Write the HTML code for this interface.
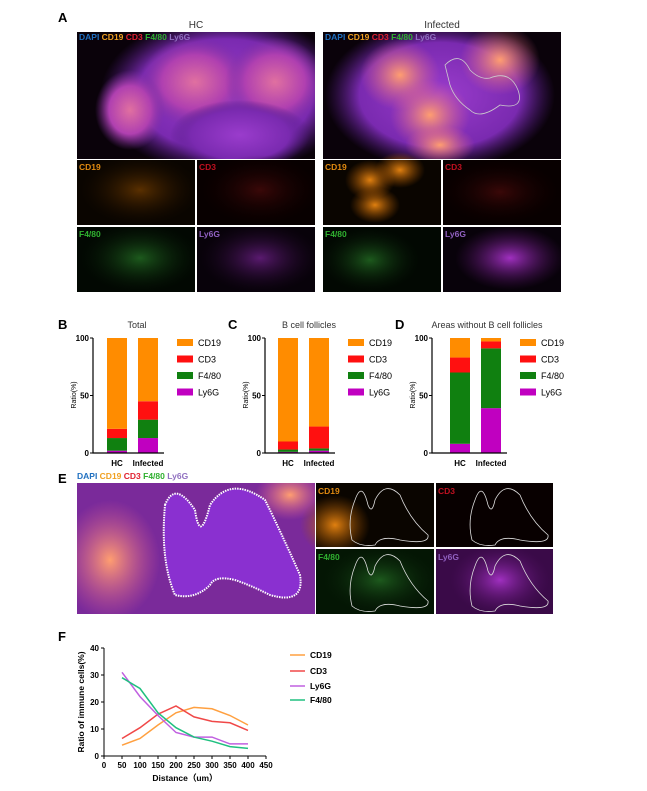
<!DOCTYPE html>
<html><head><meta charset="utf-8"><style>
html,body{margin:0;padding:0;background:#fff;width:647px;height:791px;overflow:hidden}
svg{display:block;font-family:"Liberation Sans",sans-serif}
</style></head><body>
<svg id="s" width="647" height="791" viewBox="0 0 647 791" xmlns="http://www.w3.org/2000/svg">
<defs>
<radialGradient id="pk" cx="50%" cy="50%" r="50%"><stop offset="0" stop-color="#e070a0"/><stop offset="0.6" stop-color="#b040b0"/><stop offset="1" stop-color="#8030a0" stop-opacity="0"/></radialGradient>
<radialGradient id="pu" cx="50%" cy="50%" r="50%"><stop offset="0" stop-color="#9a3ccc"/><stop offset="0.7" stop-color="#7a2ab0"/><stop offset="1" stop-color="#501a80" stop-opacity="0"/></radialGradient>
<radialGradient id="or" cx="50%" cy="50%" r="50%"><stop offset="0" stop-color="#ff9e70"/><stop offset="1" stop-color="#e06090" stop-opacity="0"/></radialGradient>
<radialGradient id="o2" cx="50%" cy="50%" r="50%"><stop offset="0" stop-color="#e08010"/><stop offset="1" stop-color="#a05000" stop-opacity="0"/></radialGradient>
<radialGradient id="o3" cx="50%" cy="50%" r="50%"><stop offset="0" stop-color="#5a3000"/><stop offset="1" stop-color="#1a0c00" stop-opacity="0"/></radialGradient>
<radialGradient id="r3" cx="50%" cy="50%" r="50%"><stop offset="0" stop-color="#3a0808"/><stop offset="1" stop-color="#100000" stop-opacity="0"/></radialGradient>
<radialGradient id="g3" cx="50%" cy="50%" r="50%"><stop offset="0" stop-color="#1d5a1d"/><stop offset="1" stop-color="#061806" stop-opacity="0"/></radialGradient>
<radialGradient id="v3" cx="50%" cy="50%" r="50%"><stop offset="0" stop-color="#5a1a70"/><stop offset="1" stop-color="#1a0620" stop-opacity="0"/></radialGradient>
<radialGradient id="v4" cx="50%" cy="50%" r="50%"><stop offset="0" stop-color="#a030c0"/><stop offset="1" stop-color="#501060" stop-opacity="0"/></radialGradient>
<clipPath id="cl">
<rect x="77" y="32" width="238" height="127"/><rect x="323" y="32" width="238" height="127"/>
<rect x="77" y="160" width="118" height="65"/><rect x="197" y="160" width="118" height="65"/>
<rect x="77" y="227" width="118" height="65"/><rect x="197" y="227" width="118" height="65"/>
<rect x="323" y="160" width="118" height="65"/><rect x="443" y="160" width="118" height="65"/>
<rect x="323" y="227" width="118" height="65"/><rect x="443" y="227" width="118" height="65"/>
<rect x="77" y="483" width="238" height="131"/>
<rect x="316" y="483" width="118" height="64"/><rect x="436" y="483" width="117" height="64"/>
<rect x="316" y="549" width="118" height="65"/><rect x="436" y="549" width="117" height="65"/>
</clipPath>
</defs>
<g font-size="10">
<text x="58" y="22" font-weight="bold" font-size="13">A</text>
<text x="196" y="28" text-anchor="middle" fill="#333">HC</text>
<text x="442" y="28" text-anchor="middle" fill="#333">Infected</text>
</g>
<g clip-path="url(#cl)">
<!-- HC big -->
<rect x="77" y="32" width="238" height="127" fill="#0a020a"/>
<ellipse cx="225" cy="95" rx="125" ry="80" fill="url(#pu)"/>
<ellipse cx="195" cy="82" rx="55" ry="45" fill="url(#pk)"/>
<ellipse cx="275" cy="82" rx="50" ry="45" fill="url(#pk)"/>
<ellipse cx="240" cy="135" rx="70" ry="35" fill="url(#pu)"/>
<ellipse cx="130" cy="110" rx="35" ry="40" fill="url(#pk)"/>
<!-- Infected big -->
<rect x="323" y="32" width="238" height="127" fill="#0a020a"/>
<ellipse cx="440" cy="95" rx="115" ry="75" fill="url(#pu)"/>
<ellipse cx="400" cy="75" rx="40" ry="35" fill="url(#or)"/>
<ellipse cx="500" cy="60" rx="40" ry="35" fill="url(#or)"/>
<ellipse cx="430" cy="115" rx="40" ry="35" fill="url(#or)"/>
<ellipse cx="440" cy="145" rx="35" ry="20" fill="url(#or)"/>
<path d="M445 65 Q460 50 470 70 Q480 80 490 78 Q510 70 518 90 Q525 110 500 105 Q480 120 470 110 Q455 100 450 85 Z" fill="none" stroke="#ccc" stroke-width="0.8"/>
<!-- small panels -->
<rect x="77" y="160" width="118" height="65" fill="#0a0500"/><ellipse cx="140" cy="190" rx="60" ry="35" fill="url(#o3)"/>
<rect x="197" y="160" width="118" height="65" fill="#080000"/><ellipse cx="260" cy="190" rx="60" ry="35" fill="url(#r3)"/>
<rect x="77" y="227" width="118" height="65" fill="#020802"/><ellipse cx="140" cy="258" rx="60" ry="35" fill="url(#g3)"/>
<rect x="197" y="227" width="118" height="65" fill="#08020a"/><ellipse cx="260" cy="258" rx="60" ry="35" fill="url(#v3)"/>
<rect x="323" y="160" width="118" height="65" fill="#0a0500"/><ellipse cx="370" cy="180" rx="25" ry="20" fill="url(#o2)"/><ellipse cx="400" cy="170" rx="25" ry="18" fill="url(#o2)"/><ellipse cx="375" cy="205" rx="25" ry="18" fill="url(#o2)"/>
<rect x="443" y="160" width="118" height="65" fill="#080000"/><ellipse cx="500" cy="192" rx="60" ry="32" fill="url(#r3)"/>
<rect x="323" y="227" width="118" height="65" fill="#020802"/><ellipse cx="370" cy="260" rx="50" ry="32" fill="url(#g3)"/>
<rect x="443" y="227" width="118" height="65" fill="#08020a"/><ellipse cx="510" cy="258" rx="55" ry="32" fill="url(#v4)"/>
<!-- E -->
<rect x="77" y="483" width="238" height="131" fill="#7a2a9a"/>
<ellipse cx="110" cy="560" rx="50" ry="60" fill="url(#or)"/>
<ellipse cx="290" cy="495" rx="35" ry="25" fill="url(#or)"/>
<path d="M165 505 Q175 480 195 510 Q200 545 210 505 Q230 475 265 500 Q280 530 300 575 Q305 605 270 595 Q250 585 235 580 Q215 575 210 585 Q195 600 175 595 Q160 560 165 505 Z" fill="#8a30d0" stroke="#fff" stroke-width="2" stroke-dasharray="1.5 1"/>
<rect x="316" y="483" width="118" height="64" fill="#0a0500"/><ellipse cx="335" cy="525" rx="35" ry="30" fill="url(#o2)"/>
<rect x="436" y="483" width="117" height="64" fill="#080000"/>
<rect x="316" y="549" width="118" height="65" fill="#041604"/><ellipse cx="380" cy="580" rx="60" ry="35" fill="url(#g3)"/>
<rect x="436" y="549" width="117" height="65" fill="#3a0a48"/><ellipse cx="500" cy="580" rx="50" ry="35" fill="url(#v4)"/>
<g fill="none" stroke="#ddd" stroke-width="0.8">
<path d="M355 500 Q362 480 368 505 Q372 515 375 500 Q385 480 400 495 Q410 520 428 535 Q430 545 400 540 Q380 535 375 545 Q360 547 352 540 Q347 520 355 500Z"/>
<path d="M475 500 Q482 480 488 505 Q492 515 495 500 Q505 480 520 495 Q530 520 548 535 Q550 545 520 540 Q500 535 495 545 Q480 547 472 540 Q467 520 475 500Z"/>
<path d="M355 566 Q362 546 368 571 Q372 581 375 566 Q385 546 400 561 Q410 586 428 601 Q430 611 400 606 Q380 601 375 611 Q360 613 352 606 Q347 586 355 566Z"/>
<path d="M475 566 Q482 546 488 571 Q492 581 495 566 Q505 546 520 561 Q530 586 548 601 Q550 611 520 606 Q500 601 495 611 Q480 613 472 606 Q467 586 475 566Z"/>
</g>
</g>
<g font-size="8.5" font-weight="bold">
<text x="79" y="40"><tspan fill="#2070c0">DAPI </tspan><tspan fill="#f0a020">CD19 </tspan><tspan fill="#e02030">CD3 </tspan><tspan fill="#30b030">F4/80 </tspan><tspan fill="#9070c0">Ly6G</tspan></text>
<text x="325" y="40"><tspan fill="#2070c0">DAPI </tspan><tspan fill="#f0a020">CD19 </tspan><tspan fill="#e02030">CD3 </tspan><tspan fill="#30b030">F4/80 </tspan><tspan fill="#9070c0">Ly6G</tspan></text>
<text x="79" y="170" fill="#e08a10">CD19</text><text x="199" y="170" fill="#c01020">CD3</text>
<text x="79" y="237" fill="#30b030">F4/80</text><text x="199" y="237" fill="#9060c0">Ly6G</text>
<text x="325" y="170" fill="#e08a10">CD19</text><text x="445" y="170" fill="#c01020">CD3</text>
<text x="325" y="237" fill="#30b030">F4/80</text><text x="445" y="237" fill="#9060c0">Ly6G</text>
<text x="318" y="494" fill="#e08a10">CD19</text><text x="438" y="494" fill="#c01020">CD3</text>
<text x="318" y="560" fill="#30b030">F4/80</text><text x="438" y="560" fill="#9060c0">Ly6G</text>
</g>
<g id="bars"></g>
<text x="58" y="483" font-weight="bold" font-size="13">E</text>
<text x="77" y="479" font-size="8.5" font-weight="bold"><tspan fill="#2070c0">DAPI </tspan><tspan fill="#f0a020">CD19 </tspan><tspan fill="#e02030">CD3 </tspan><tspan fill="#30b030">F4/80 </tspan><tspan fill="#9070c0">Ly6G</tspan></text>
<!-- F -->
<text x="58" y="641" font-weight="bold" font-size="13">F</text>
<path d="M104 648 V756 H266" stroke="#000" stroke-width="1" fill="none"/>
<g id="fticks"></g>
<g fill="none" stroke-width="1.5">
<polyline stroke="#ffa040" points="122,745.2 140,738.5 158,725 176,712.8 194,707.4 212,708.8 230,715.5 248,725"/>
<polyline stroke="#f04848" points="122,738.5 140,727.7 158,714.2 176,706 194,716.9 212,721.4 230,722.8 248,730.4"/>
<polyline stroke="#c060e0" points="122,672.3 140,696.6 158,715.5 176,732.5 194,737.1 212,737.1 230,743.9 248,743.9"/>
<polyline stroke="#20c080" points="122,677.7 140,688.5 158,712.8 176,727.7 194,737.1 212,741.2 230,746.6 248,748.4"/>
</g>
<text transform="translate(84,702) rotate(-90)" text-anchor="middle" font-size="8.5" font-weight="bold">Ratio of immune cells(%)</text>
<text x="185" y="781" text-anchor="middle" font-size="8.5" font-weight="bold">Distance（um）</text>
<g font-size="8.5" font-weight="bold">
<line x1="290" y1="655" x2="305" y2="655" stroke="#ffa040" stroke-width="1.5"/><text x="310" y="658">CD19</text>
<line x1="290" y1="671" x2="305" y2="671" stroke="#f04848" stroke-width="1.5"/><text x="310" y="674">CD3</text>
<line x1="290" y1="686" x2="305" y2="686" stroke="#c060e0" stroke-width="1.5"/><text x="310" y="689">Ly6G</text>
<line x1="290" y1="700" x2="305" y2="700" stroke="#20c080" stroke-width="1.5"/><text x="310" y="703">F4/80</text>
</g>
</svg>
<script>
var NS="http://www.w3.org/2000/svg",g=document.getElementById("bars");
function el(t,a,txt,p){var e=document.createElementNS(NS,t);for(var k in a)e.setAttribute(k,a[k]);if(txt!==undefined&&txt!==null)e.textContent=txt;(p||g).appendChild(e);return e;}
var C=["#c000c0","#108010","#ff1010","#ff8c00"];
function panel(L,lx,ax,title,tx,hc,inf,bx){
 var top=338,bot=453,s=1.15;
 el("text",{x:lx,y:329,"font-size":13,"font-weight":"bold"},L);
 el("text",{x:tx,y:328,"font-size":9,"text-anchor":"middle",fill:"#333"},title);
 [[bx,hc],[bx+31,inf]].forEach(function(b){var prev=0;b[1].concat([100]).forEach(function(v,i){el("rect",{x:b[0],y:bot-v*s,width:20,height:(v-prev)*s,fill:C[i]});prev=v;});});
 el("path",{d:"M"+ax+" "+top+" V"+bot+" H"+(bx+57),stroke:"#000",fill:"none","stroke-width":1.2});
 [0,50,100].forEach(function(v){var y=bot-v*s;el("line",{x1:ax-3,y1:y,x2:ax,y2:y,stroke:"#000"});el("text",{x:ax-4,y:y+3,"font-size":8,"font-weight":"bold","text-anchor":"end"},v);});
 el("text",{transform:"translate("+(ax-17)+",395) rotate(-90)","font-size":7,"text-anchor":"middle"},"Ratio(%)");
 el("text",{x:bx+10,y:466,"font-size":8,"font-weight":"bold","text-anchor":"middle"},"HC");
 el("text",{x:bx+41,y:466,"font-size":8,"font-weight":"bold","text-anchor":"middle"},"Infected");
 var lgx=bx+70;["CD19","CD3","F4/80","Ly6G"].forEach(function(n,i){var y=339+i*16.5;el("rect",{x:lgx,y:y,width:16,height:7,fill:C[3-i]});el("text",{x:lgx+21,y:y+7,"font-size":9},n);});
}
panel("B",58,93,"Total",137,[2,13,21],[13,29,45],107);
panel("C",228,265,"B cell follicles",309,[1,3,10],[2,4,23],278);
panel("D",395,432,"Areas without B cell follicles",487,[8,70,83],[39,91,97],450);
var f=document.getElementById("fticks");
for(var v=0;v<=40;v+=10){var y=756-v*2.7;el("line",{x1:101,y1:y,x2:104,y2:y,stroke:"#000"},null,f);el("text",{x:99,y:y+3,"font-size":8,"font-weight":"bold","text-anchor":"end"},String(v),f);}
for(var d=0;d<=450;d+=50){var x=104+d*0.36;el("line",{x1:x,y1:756,x2:x,y2:759,stroke:"#000"},null,f);el("text",{x:x,y:768,"font-size":8,"font-weight":"bold","text-anchor":"middle"},String(d),f);}
</script>
</body></html>
